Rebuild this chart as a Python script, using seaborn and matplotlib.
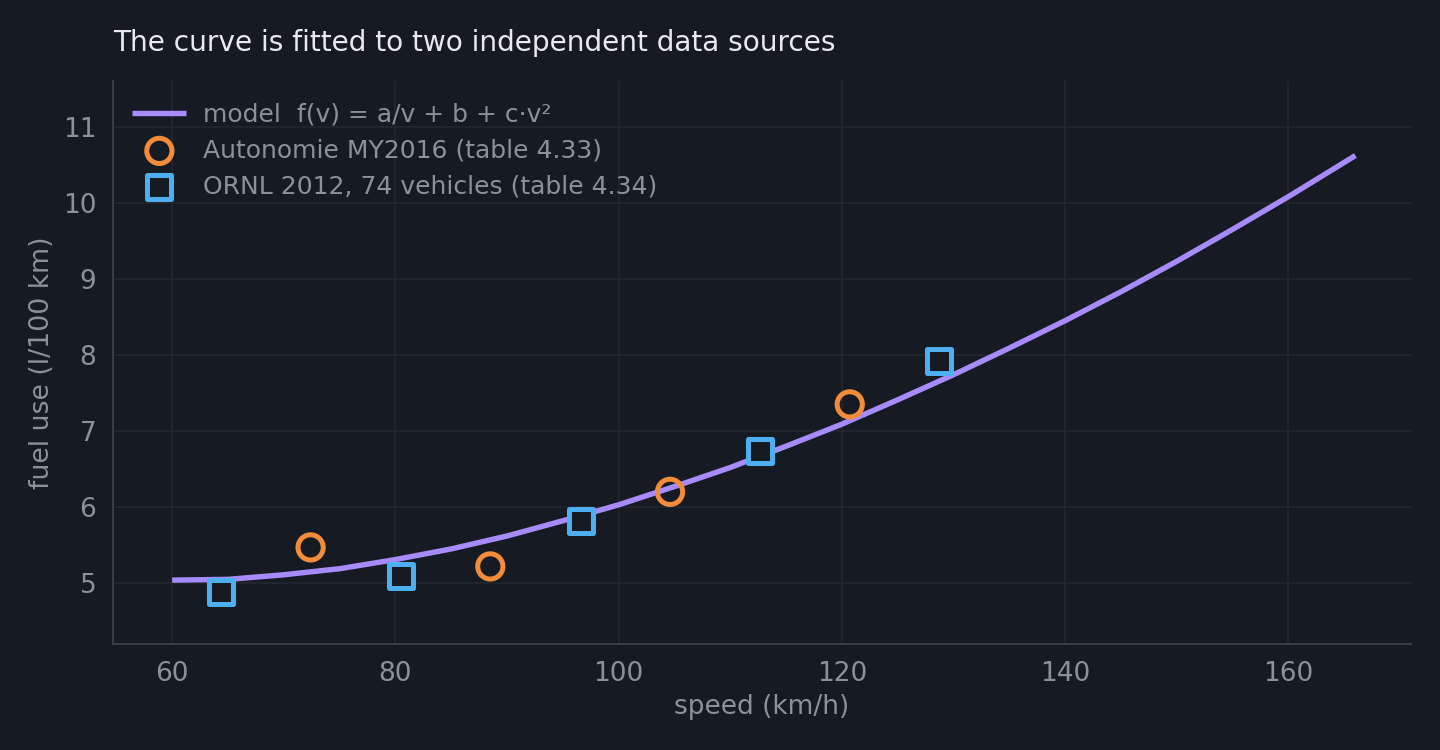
import matplotlib
matplotlib.use("Agg")
import matplotlib.pyplot as plt
import seaborn as sns
import pandas as pd

# ---- data ----
model_speed = [60, 65, 70, 75, 80, 85, 90, 95, 100, 105, 110, 115, 120, 125,
               130, 135, 140, 145, 150, 155, 160, 165, 166]
model_fuel = [5.04, 5.05, 5.11, 5.19, 5.31, 5.45, 5.62, 5.82, 6.03, 6.27, 6.52,
              6.80, 7.09, 7.41, 7.74, 8.09, 8.45, 8.83, 9.23, 9.65, 10.08, 10.53, 10.62]

autonomie_speed = [72.4, 88.5, 104.6, 120.7]
autonomie_fuel = [5.47, 5.22, 6.20, 7.35]

ornl_speed = [64.4, 80.5, 96.6, 112.7, 128.7]
ornl_fuel = [4.89, 5.09, 5.82, 6.74, 7.92]

x_ticks = [60, 80, 100, 120, 140, 160]
y_ticks = [5, 6, 7, 8, 9, 10, 11]

title = "The curve is fitted to two independent data sources"
label_model = "model  f(v) = a/v + b + c·v²"
label_auto = "Autonomie MY2016 (table 4.33)"
label_ornl = "ORNL 2012, 74 vehicles (table 4.34)"

# ---- style ----
BG = "#161a22"
GRID = "#22262e"
SPINE = "#3a3e47"
TXT = "#8b919b"
TITLE = "#e8eaef"
PURPLE = "#a78bfa"
ORANGE = "#f28b3a"
BLUE = "#4daff0"

sns.set_theme(style="darkgrid", rc={
    "axes.facecolor": BG, "figure.facecolor": BG, "grid.color": GRID,
    "axes.edgecolor": SPINE, "grid.linewidth": 1.3,
})
plt.rcParams["font.family"] = ["DejaVu Sans"]

fig = plt.figure(figsize=(14.4, 7.5), dpi=100)
ax = fig.add_axes([0.0785, 0.1413, 0.9015, 0.7507])

df_model = pd.DataFrame({"speed": model_speed, "fuel": model_fuel})
df_auto = pd.DataFrame({"speed": autonomie_speed, "fuel": autonomie_fuel})
df_ornl = pd.DataFrame({"speed": ornl_speed, "fuel": ornl_fuel})

sns.lineplot(data=df_model, x="speed", y="fuel", ax=ax, color=PURPLE,
             linewidth=3.9, label=label_model, sort=True,
             solid_joinstyle="round", solid_capstyle="butt")
sns.scatterplot(data=df_auto, x="speed", y="fuel", ax=ax, marker="o", s=330,
                facecolor="none", edgecolor=ORANGE, linewidth=3.6,
                label=label_auto, zorder=4)
sns.scatterplot(data=df_ornl, x="speed", y="fuel", ax=ax, marker="s", s=290,
                facecolor=BG, edgecolor=BLUE, linewidth=3.6,
                label=label_ornl, zorder=4)

ax.set_xlim(54.7, 171.0)
ax.set_ylim(4.2, 11.6)
ax.set_xticks(x_ticks)
ax.set_yticks(y_ticks)

for s in ["top", "right"]:
    ax.spines[s].set_visible(False)
for s in ["left", "bottom"]:
    ax.spines[s].set_visible(True)
    ax.spines[s].set_color(SPINE)
    ax.spines[s].set_linewidth(1.4)

ax.tick_params(axis="both", colors=SPINE, labelcolor=TXT, labelsize=19,
               length=6, width=1.4, direction="out", pad=6)
ax.set_xlabel("speed (km/h)", color=TXT, fontsize=19, labelpad=5)
ax.set_ylabel("fuel use (l/100 km)", color=TXT, fontsize=19.3, labelpad=6)
ax.grid(True, color=GRID, linewidth=1.3)

fig.text(0.0785, 0.943, title, color=TITLE, fontsize=20.2, ha="left", va="center")

leg = ax.legend(loc="upper left", frameon=False, fontsize=18,
                handlelength=2.15, handletextpad=0.68, labelspacing=0.48,
                borderaxespad=0.3, bbox_to_anchor=(0.0015, 0.993))
for t in leg.get_texts():
    t.set_color(TXT)

fig.savefig("out.png", dpi=100, facecolor=BG)
